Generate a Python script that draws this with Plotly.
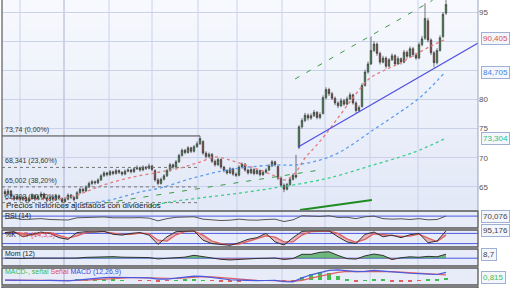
import plotly.graph_objects as go

# ---------------- price data (bar index) ----------------
opens = [64.2,63.8,64.3,63.4,62.9,63.3,62.8,63.2,62.6,63.0,63.5,62.9,63.4,63.8,63.1,62.7,63.2,62.8,63.5,63.0,
         62.5,62.9,63.6,63.2,63.0,64.0,64.6,64.3,65.0,65.6,65.9,65.7,66.2,66.9,67.4,67.1,67.6,67.3,67.8,67.5,
         67.2,67.7,67.9,67.6,68.1,68.3,67.9,68.4,68.2,68.6,67.8,66.2,65.6,66.3,66.9,67.8,68.8,68.4,69.3,70.4,
         71.3,70.9,71.7,71.1,71.9,72.4,72.8,70.8,70.2,70.6,69.4,68.8,69.7,68.4,67.8,67.4,68.1,67.2,67.0,68.4,
         68.9,67.9,67.4,68.0,67.3,67.8,67.1,67.5,67.9,68.6,69.3,68.5,66.5,65.3,64.6,65.4,66.3,67.0,71.8,75.3,
         76.4,77.3,76.8,77.2,77.8,76.9,77.6,80.3,81.7,81.0,80.2,79.4,78.9,79.8,79.2,80.1,80.8,79.4,78.1,78.8,
         82.4,84.7,86.1,88.4,89.5,87.9,86.4,87.1,85.7,86.8,87.5,86.1,87.0,86.4,88.1,87.4,88.7,87.7,87.1,89.4,
         90.5,93.5,90.2,88.0,86.3,88.4,90.8,94.8]
highs = [64.6,64.7,64.5,63.7,63.6,63.5,63.5,63.4,63.3,63.9,63.7,63.7,64.2,64.0,63.3,63.5,63.4,63.8,63.7,63.2,
         63.2,63.9,63.8,63.4,64.3,64.9,64.8,65.3,65.9,66.2,66.1,66.5,67.2,67.7,67.6,67.9,67.8,68.1,68.0,67.7,
         68.0,68.2,68.1,68.4,68.7,68.5,68.7,68.6,69.0,68.8,68.0,66.5,66.6,67.2,68.1,69.1,69.0,69.6,70.7,71.6,
         71.5,72.0,71.9,72.2,72.8,73.74,73.0,71.1,70.9,70.8,69.7,70.0,69.9,68.6,68.0,68.4,68.3,67.5,68.7,69.2,
         69.1,68.1,68.3,68.2,68.1,68.0,67.8,68.2,68.9,69.6,69.5,68.7,66.8,65.6,65.7,66.6,67.3,70.5,75.6,76.8,
         77.7,77.6,77.6,78.2,78.0,77.8,80.7,82.1,82.0,81.3,80.5,79.7,80.2,80.1,80.5,81.2,81.0,79.7,79.0,82.8,
         85.1,86.5,90.8,90.0,89.8,88.2,87.5,87.4,87.1,87.9,87.8,87.4,87.2,88.5,88.4,89.1,89.0,88.0,89.8,90.9,
         96.5,94.0,90.5,88.3,88.8,91.0,95.0,97.5]
lows = [63.2,63.6,63.1,62.6,62.7,62.5,62.6,62.3,62.4,62.8,62.6,62.7,63.2,62.9,62.4,62.5,62.5,62.6,62.7,62.2,
        62.3,62.7,62.9,62.5,62.9,63.8,64.0,64.1,64.8,65.3,65.4,65.5,66.0,66.7,66.8,66.9,67.0,67.1,67.2,66.9,
        67.0,67.5,67.3,67.4,67.9,67.6,67.7,67.9,68.0,67.7,65.9,65.3,65.4,66.1,66.7,67.6,68.1,68.2,69.1,70.2,
        70.6,70.7,70.8,70.9,71.7,72.2,70.5,69.9,70.0,69.1,68.5,68.6,68.1,67.5,67.1,67.2,66.9,66.7,66.8,68.2,
        67.6,67.1,67.2,67.0,67.1,66.8,66.9,67.3,67.7,68.4,68.5,66.2,65.0,64.1,64.4,65.2,66.1,66.4,71.5,75.0,
        76.1,76.4,76.5,77.0,76.6,76.6,77.4,80.0,80.6,79.9,79.0,78.5,78.7,78.9,79.0,79.9,79.1,77.7,77.9,78.6,
        82.2,84.4,85.9,88.1,87.5,86.0,86.2,85.3,85.5,86.6,85.8,85.9,86.0,86.2,87.0,87.2,87.3,86.8,86.9,89.1,
        90.2,89.8,87.6,85.5,86.0,88.2,90.5,94.5]
closes = [63.8,64.3,63.4,62.9,63.3,62.8,63.2,62.6,63.0,63.5,62.9,63.4,63.8,63.1,62.7,63.2,62.8,63.5,63.0,62.5,
          62.9,63.6,63.2,62.8,64.0,64.6,64.3,65.0,65.6,65.9,65.7,66.2,66.9,67.4,67.1,67.6,67.3,67.8,67.5,67.2,
          67.7,67.9,67.6,68.1,68.3,67.9,68.4,68.2,68.6,68.0,66.2,65.6,66.3,66.9,67.8,68.8,68.4,69.3,70.4,71.3,
          70.9,71.7,71.1,71.9,72.4,73.3,70.8,70.2,70.6,69.4,68.8,69.7,68.4,67.8,67.4,68.1,67.2,67.0,68.4,68.9,
          67.9,67.4,68.0,67.3,67.8,67.1,67.5,67.9,68.6,69.3,68.8,66.5,65.3,64.6,65.4,66.3,67.0,66.7,75.3,76.4,
          77.3,76.8,77.2,77.8,76.9,77.4,80.3,81.7,81.0,80.2,79.4,78.9,79.8,79.2,80.1,80.8,79.4,78.1,78.6,82.4,
          84.7,86.1,88.4,89.5,87.9,86.4,87.1,85.7,86.8,87.5,86.1,87.0,86.4,88.1,87.4,88.7,87.7,87.1,89.4,90.4,
          93.9,90.2,88.0,86.3,88.4,90.6,94.6,96.3]
bar_idx = list(range(len(closes)))

# ---------------- moving averages (bar index, value) ----------------
ma_short_x = [0, 8.3, 16.7, 24, 30, 35, 42.7, 51.7, 58.3, 65, 70, 75, 80, 85, 90, 93.3, 96.7, 100, 103.3,
              106.7, 111.7, 116.7, 121.7, 126.7, 131.7, 138.3, 143.3, 147.3]
ma_short_y = [62.92, 62.9, 62.9, 63.6, 64.8, 65.67, 66.7, 67.56, 68.24, 69.27, 70.13, 69.61, 68.76, 67.9,
              66.87, 66.2, 67.4, 69.96, 71.84, 73.9, 77.33, 80.76, 83.68, 85.05, 86.25, 88.14, 89.51, 90.405]
ma_mid_x = [18.3, 25, 35, 45, 51.7, 62.7, 74, 85, 90.7, 96.7, 105, 111.7, 122.7, 131.7, 137.3, 141.7, 146.7]
ma_mid_y = [61.72, 62.07, 62.75, 64.13, 64.81, 66.53, 67.9, 68.59, 68.76, 68.76, 69.61, 70.99, 74.76,
            77.85, 79.91, 81.96, 84.705]
ma_long_x = [48.3, 55, 65, 78.3, 91.7, 105, 111.7, 122.7, 131.7, 138.3, 146.7]
ma_long_y = [61.72, 62.41, 63.1, 63.95, 64.98, 66.18, 67.04, 68.76, 70.13, 71.33, 73.304]

# ---------------- drawn trend lines ----------------
channel_x = [96.7, 142.5]
channel_y = [83.51, 97.0]
support_x = [33.3, 105]
support_y = [62.24, 67.9]
trend_x = [97.7, 157.7]
trend_y = [71.84, 89.68]
vol_trend_x = [98.3, 122.3]
vol_trend_y = [61.04, 62.75]

# ---------------- Fibonacci levels ----------------
fib_x = [-1, 65]
fib_vals = [73.74, 68.341, 65.002, 62.303]
fib_labels = ["73,74 (0,00%)", "68,341 (23,60%)", "65,002 (38,20%)", "62,303 (50,00%)"]

# ---------------- price axis ticks ----------------
price_ticks = [65, 70, 75, 80, 85, 90, 95]
price_tick_text = ["65", "70", "75", "80", "", "", "95"]

# ---------------- indicators (every 3rd bar) ----------------
ind_idx = list(range(0, 148, 3))
rsi = [55, 58, 50, 52, 55, 50, 48, 47, 60, 62, 63, 65, 60, 58, 60, 61, 58, 42, 55, 63,
       66, 66, 52, 46, 44, 46, 52, 47, 46, 50, 52, 38, 48, 72, 70, 68, 72, 62, 63, 55,
       66, 70, 55, 52, 54, 50, 55, 48, 50, 70.076]
stoch_k = [85, 90, 60, 75, 88, 80, 55, 45, 85, 90, 88, 92, 75, 70, 80, 85, 70, 15, 60, 90,
           92, 95, 40, 20, 15, 10, 25, 45, 55, 80, 30, 12, 55, 92, 95, 93, 95, 60, 30, 20,
           75, 88, 60, 70, 55, 72, 80, 25, 35, 95.176]
stoch_d = [85, 88, 78, 70, 80, 84, 68, 52, 65, 85, 90, 90, 82, 74, 75, 82, 78, 40, 35, 72,
           90, 93, 70, 35, 20, 14, 17, 32, 48, 65, 58, 30, 30, 70, 90, 94, 94, 80, 48, 28,
           45, 78, 72, 66, 62, 64, 76, 52, 32, 70]
momentum = [0.3, -0.4, -0.6, 0.1, 0.0, 0.4, 0.0, 0.1, 0.2, 1.8, 2.7, 3.8, 3.3, 2.2, 1.9, 0.5, 1.3, -1.6, 0.2, 1.4,
            2.3, 6.3, 3.0, 0.1, -2.5, -3.8, -2.4, -2.0, -0.6, -0.2, 0.4, -2.8, -0.8, 8.5, 8.4, 12.8, 14.0, 6.0, -1.0, -2.0,
            5.0, 9.0, 6.0, -3.0, 1.0, 3.0, 2.0, 4.0, 3.0, 8.7]
macd = [0.1, 0.05, -0.1, -0.15, -0.05, 0.0, -0.1, -0.15, 0.1, 0.4, 0.7, 0.9, 1.0, 0.95, 0.9, 0.85, 0.8, 0.4, 0.4, 0.7,
        1.1, 1.4, 1.3, 0.9, 0.5, 0.2, 0.1, -0.05, -0.1, -0.05, 0.0, -0.4, -0.5, 0.8, 1.8, 2.5, 3.2, 3.4, 3.2, 2.8,
        2.9, 3.2, 3.0, 2.7, 2.5, 2.3, 2.2, 2.1, 1.9, 2.6]
signal = [0.1, 0.08, 0.02, -0.05, -0.08, -0.05, -0.06, -0.1, -0.05, 0.1, 0.3, 0.55, 0.75, 0.85, 0.9, 0.88, 0.85, 0.7, 0.55, 0.6,
          0.8, 1.05, 1.2, 1.1, 0.85, 0.55, 0.35, 0.15, 0.0, -0.05, -0.05, -0.2, -0.35, 0.0, 0.7, 1.4, 2.1, 2.6, 2.9, 2.9,
          2.9, 3.0, 3.0, 2.85, 2.65, 2.45, 2.3, 2.2, 2.05, 1.8]
hist = [0.0, -0.03, -0.12, -0.1, 0.03, 0.05, -0.04, -0.05, 0.15, 0.3, 0.4, 0.35, 0.25, 0.1, 0.0, -0.03, -0.05, -0.3, -0.15, 0.1,
        0.3, 0.35, 0.1, -0.2, -0.35, -0.35, -0.25, -0.2, -0.1, 0.0, 0.05, -0.2, -0.15, 1.2, 2.2, 2.6, 2.4, 1.5, 0.5, -0.3,
        0.1, 0.5, 0.2, -0.3, -0.3, -0.25, -0.15, 0.3, 0.4, 0.815]

# ---------------- layout geometry (pixels) ----------------
W, H = 512, 288
X0, X1 = 2, 478
MAIN = (0, 210)
PANELS = [(211, 228), (230, 247), (249, 266), (268, 285)]
GRID_PX = [20, 64, 109, 152, 198, 237, 282, 325, 370, 418]
FONT = "Liberation Sans"


def fx(p):
    return p / W


def fy(p):
    return 1 - p / H


def fmt(v, d=3):
    return f"{v:.{d}f}".replace(".", ",")


fig = go.Figure()

# candlesticks
fig.add_trace(go.Candlestick(
    x=bar_idx, open=opens, high=highs, low=lows, close=closes,
    increasing=dict(line=dict(color="#3d3d3d", width=0.7), fillcolor="#2f8f3c"),
    decreasing=dict(line=dict(color="#3d3d3d", width=0.7), fillcolor="#8e3434"),
    whiskerwidth=0, xaxis="x", yaxis="y", showlegend=False, hoverinfo="skip"))

# fib lines
for k, v in enumerate(fib_vals):
    fig.add_trace(go.Scatter(
        x=fib_x, y=[v, v], mode="lines", xaxis="x", yaxis="y", showlegend=False,
        line=dict(color="#444" if k == 0 else "#777", width=1, dash="solid" if k == 0 else "dot")))

# moving averages
fig.add_trace(go.Scatter(x=ma_short_x, y=ma_short_y, mode="lines", line=dict(color="#e57a7a", width=1.3, dash="dot", shape="spline"), showlegend=False))
fig.add_trace(go.Scatter(x=ma_mid_x, y=ma_mid_y, mode="lines", line=dict(color="#5b9df0", width=1.3, dash="dot", shape="spline"), showlegend=False))
fig.add_trace(go.Scatter(x=ma_long_x, y=ma_long_y, mode="lines", line=dict(color="#3ccf8c", width=1.3, dash="dot", shape="spline"), showlegend=False))

# trend lines
fig.add_trace(go.Scatter(x=channel_x, y=channel_y, mode="lines", line=dict(color="#3a9a48", width=1, dash="5px,8px"), showlegend=False))
fig.add_trace(go.Scatter(x=support_x, y=support_y, mode="lines", line=dict(color="#3a9a48", width=1, dash="5px,8px"), showlegend=False))
fig.add_trace(go.Scatter(x=trend_x, y=trend_y, mode="lines", line=dict(color="#4f4fe0", width=1.2), showlegend=False))
fig.add_trace(go.Scatter(x=vol_trend_x, y=vol_trend_y, mode="lines", line=dict(color="#1f8c22", width=2), showlegend=False))

# RSI
fig.add_trace(go.Scatter(x=ind_idx, y=rsi, mode="lines", yaxis="y2", line=dict(color="#555", width=1), showlegend=False))

# Stochastic
fig.add_trace(go.Scatter(x=ind_idx, y=stoch_d, mode="lines", yaxis="y3", line=dict(color="#e06060", width=1.3), showlegend=False))
fig.add_trace(go.Scatter(x=ind_idx, y=stoch_k, mode="lines", yaxis="y3", line=dict(color="#333", width=1),
                         fill="tonexty", fillcolor="rgba(225,100,100,0.4)", showlegend=False))

# Momentum
mom_pos = [max(v, 0) for v in momentum]
mom_neg = [min(v, 0) for v in momentum]
fig.add_trace(go.Scatter(x=ind_idx, y=mom_pos, mode="lines", yaxis="y4", line=dict(width=0),
                         fill="tozeroy", fillcolor="rgba(60,160,70,0.7)", showlegend=False))
fig.add_trace(go.Scatter(x=ind_idx, y=mom_neg, mode="lines", yaxis="y4", line=dict(width=0),
                         fill="tozeroy", fillcolor="rgba(220,90,90,0.7)", showlegend=False))
fig.add_trace(go.Scatter(x=ind_idx, y=momentum, mode="lines", yaxis="y4", line=dict(color="#333", width=1), showlegend=False))

# MACD
fig.add_trace(go.Bar(x=ind_idx, y=hist, yaxis="y5", width=1.2,
                     marker=dict(color=["#3fbf4f" if v >= 0 else "#e06060" for v in hist], line=dict(width=0)),
                     showlegend=False))
fig.add_trace(go.Scatter(x=ind_idx, y=signal, mode="lines", yaxis="y5", line=dict(color="#e06060", width=1.2), showlegend=False))
fig.add_trace(go.Scatter(x=ind_idx, y=macd, mode="lines", yaxis="y5", line=dict(color="#4a5ae0", width=1.2), showlegend=False))

# ---------------- shapes: backgrounds, frames, grids ----------------
shapes = []
nb = 14
c_top, c_bot = (247, 249, 254), (227, 233, 247)
for b in range(nb):
    t = b / (nb - 1)
    col = tuple(int(c_top[j] + (c_bot[j] - c_top[j]) * t) for j in range(3))
    y0p = MAIN[0] + (MAIN[1] - MAIN[0]) * b / nb
    y1p = MAIN[0] + (MAIN[1] - MAIN[0]) * (b + 1) / nb
    shapes.append(dict(type="rect", xref="paper", yref="paper", x0=fx(X0), x1=fx(X1),
                       y0=fy(y1p + 0.5), y1=fy(y0p), fillcolor=f"rgb{col}", line=dict(width=0), layer="below"))
for (t, b) in PANELS:
    shapes.append(dict(type="rect", xref="paper", yref="paper", x0=fx(X0), x1=fx(X1), y0=fy(b), y1=fy(t),
                       fillcolor="#e7ecf8", line=dict(width=0), layer="below"))
for (t, b) in [MAIN] + PANELS:
    for g in GRID_PX:
        shapes.append(dict(type="line", xref="paper", yref="paper", x0=fx(g), x1=fx(g), y0=fy(b), y1=fy(t),
                           line=dict(color="#a9b2cc" if g == 64 else "#c9d2ea", width=1), layer="below"))
for (t, b) in PANELS:
    shapes.append(dict(type="rect", xref="paper", yref="paper", x0=fx(X0), x1=fx(X1), y0=fy(b), y1=fy(t),
                       line=dict(color="#555", width=1.3), fillcolor="rgba(0,0,0,0)", layer="above"))
shapes.append(dict(type="rect", xref="paper", yref="paper", x0=fx(X0), x1=fx(X1), y0=fy(290), y1=fy(287),
                   line=dict(color="#555", width=1.3), fillcolor="#e7ecf8", layer="above"))
shapes.append(dict(type="line", xref="paper", yref="paper", x0=fx(X0), x1=fx(X0), y0=fy(MAIN[1]), y1=1,
                   line=dict(color="#666", width=1.3), layer="above"))
shapes.append(dict(type="line", xref="paper", yref="paper", x0=fx(X1), x1=fx(X1), y0=fy(MAIN[1]), y1=1,
                   line=dict(color="#9aa3bd", width=1), layer="above"))
ref_lines = [("y2", 70), ("y3", 80), ("y3", 20), ("y4", 0)]
for ax, v in ref_lines:
    shapes.append(dict(type="line", xref="paper", yref=ax, x0=fx(X0), x1=fx(X1), y0=v, y1=v,
                       line=dict(color="#4a5ae0", width=1), layer="below"))

# ---------------- annotations ----------------
ann = []
for v, lab in zip(fib_vals, fib_labels):
    ann.append(dict(xref="paper", yref="y", x=fx(3), y=v, text=lab, showarrow=False, xanchor="left",
                    yanchor="bottom", font=dict(family=FONT, size=7, color="#333")))
ann.append(dict(xref="paper", yref="paper", x=fx(4), y=fy(205), text="Precios históricos ajustados con dividendos",
                showarrow=False, xanchor="left", yanchor="middle", font=dict(family=FONT, size=8, color="#222")))

panel_titles = [
    (216, "RSI (14)"),
    (235, "%K <span style='color:#e05050'>%D (14,3,5)</span>"),
    (254, "Mom (12)"),
    (272, "<span style='color:#3cb84a'>MACD-, señal</span> <span style='color:#e05050'>Señal</span> "
          "<span style='color:#3b48d8'>MACD (12,26,9)</span>"),
]
for py, txt in panel_titles:
    ann.append(dict(xref="paper", yref="paper", x=fx(3), y=fy(py), text=txt, showarrow=False, xanchor="left",
                    yanchor="middle", font=dict(family=FONT, size=7, color="#222")))

boxes = [
    ("y", ma_short_y[-1], fmt(ma_short_y[-1]), "#d85454"),
    ("y", ma_mid_y[-1], fmt(ma_mid_y[-1]), "#3f86e0"),
    ("y", ma_long_y[-1], fmt(ma_long_y[-1]), "#2fbf80"),
    ("y2", rsi[-1], fmt(rsi[-1]), "#444"),
    ("y3", stoch_k[-1], fmt(stoch_k[-1]), "#444"),
    ("y4", momentum[-1], fmt(momentum[-1], 1), "#444"),
    ("y5", hist[-1], fmt(hist[-1]), "#3fbf4f"),
]
for ax, v, txt, col in boxes:
    ann.append(dict(xref="paper", yref=ax, x=fx(481), y=v, text=txt, showarrow=False, xanchor="left",
                    yanchor="middle", font=dict(family=FONT, size=8, color=col),
                    bgcolor="#f3f6fd", bordercolor="#9fb0d4", borderwidth=1, borderpad=1))

fig.update_layout(
    width=W, height=H, margin=dict(l=0, r=0, t=0, b=0),
    paper_bgcolor="white", plot_bgcolor="rgba(0,0,0,0)",
    showlegend=False, bargap=0,
    xaxis=dict(domain=[fx(X0), fx(X1)], range=[-1, 157.667], visible=False,
               rangeslider=dict(visible=False), anchor="y"),
    yaxis=dict(domain=[fy(MAIN[1]), 1], range=[61.04, 97.06], side="right", anchor="x",
               tickvals=price_ticks, ticktext=price_tick_text, ticks="", showline=False, zeroline=False,
               gridcolor="#c9d2ea", gridwidth=1, tickfont=dict(family=FONT, size=8, color="#555")),
    yaxis2=dict(domain=[fy(PANELS[0][1]), fy(PANELS[0][0])], range=[0, 100], anchor="x", visible=False),
    yaxis3=dict(domain=[fy(PANELS[1][1]), fy(PANELS[1][0])], range=[0, 100], anchor="x", visible=False),
    yaxis4=dict(domain=[fy(PANELS[2][1]), fy(PANELS[2][0])], range=[-17, 20], anchor="x", visible=False),
    yaxis5=dict(domain=[fy(PANELS[3][1]), fy(PANELS[3][0])], range=[-1.5, 4], anchor="x", visible=False),
    shapes=shapes, annotations=ann,
)

fig.write_html("out.html")
